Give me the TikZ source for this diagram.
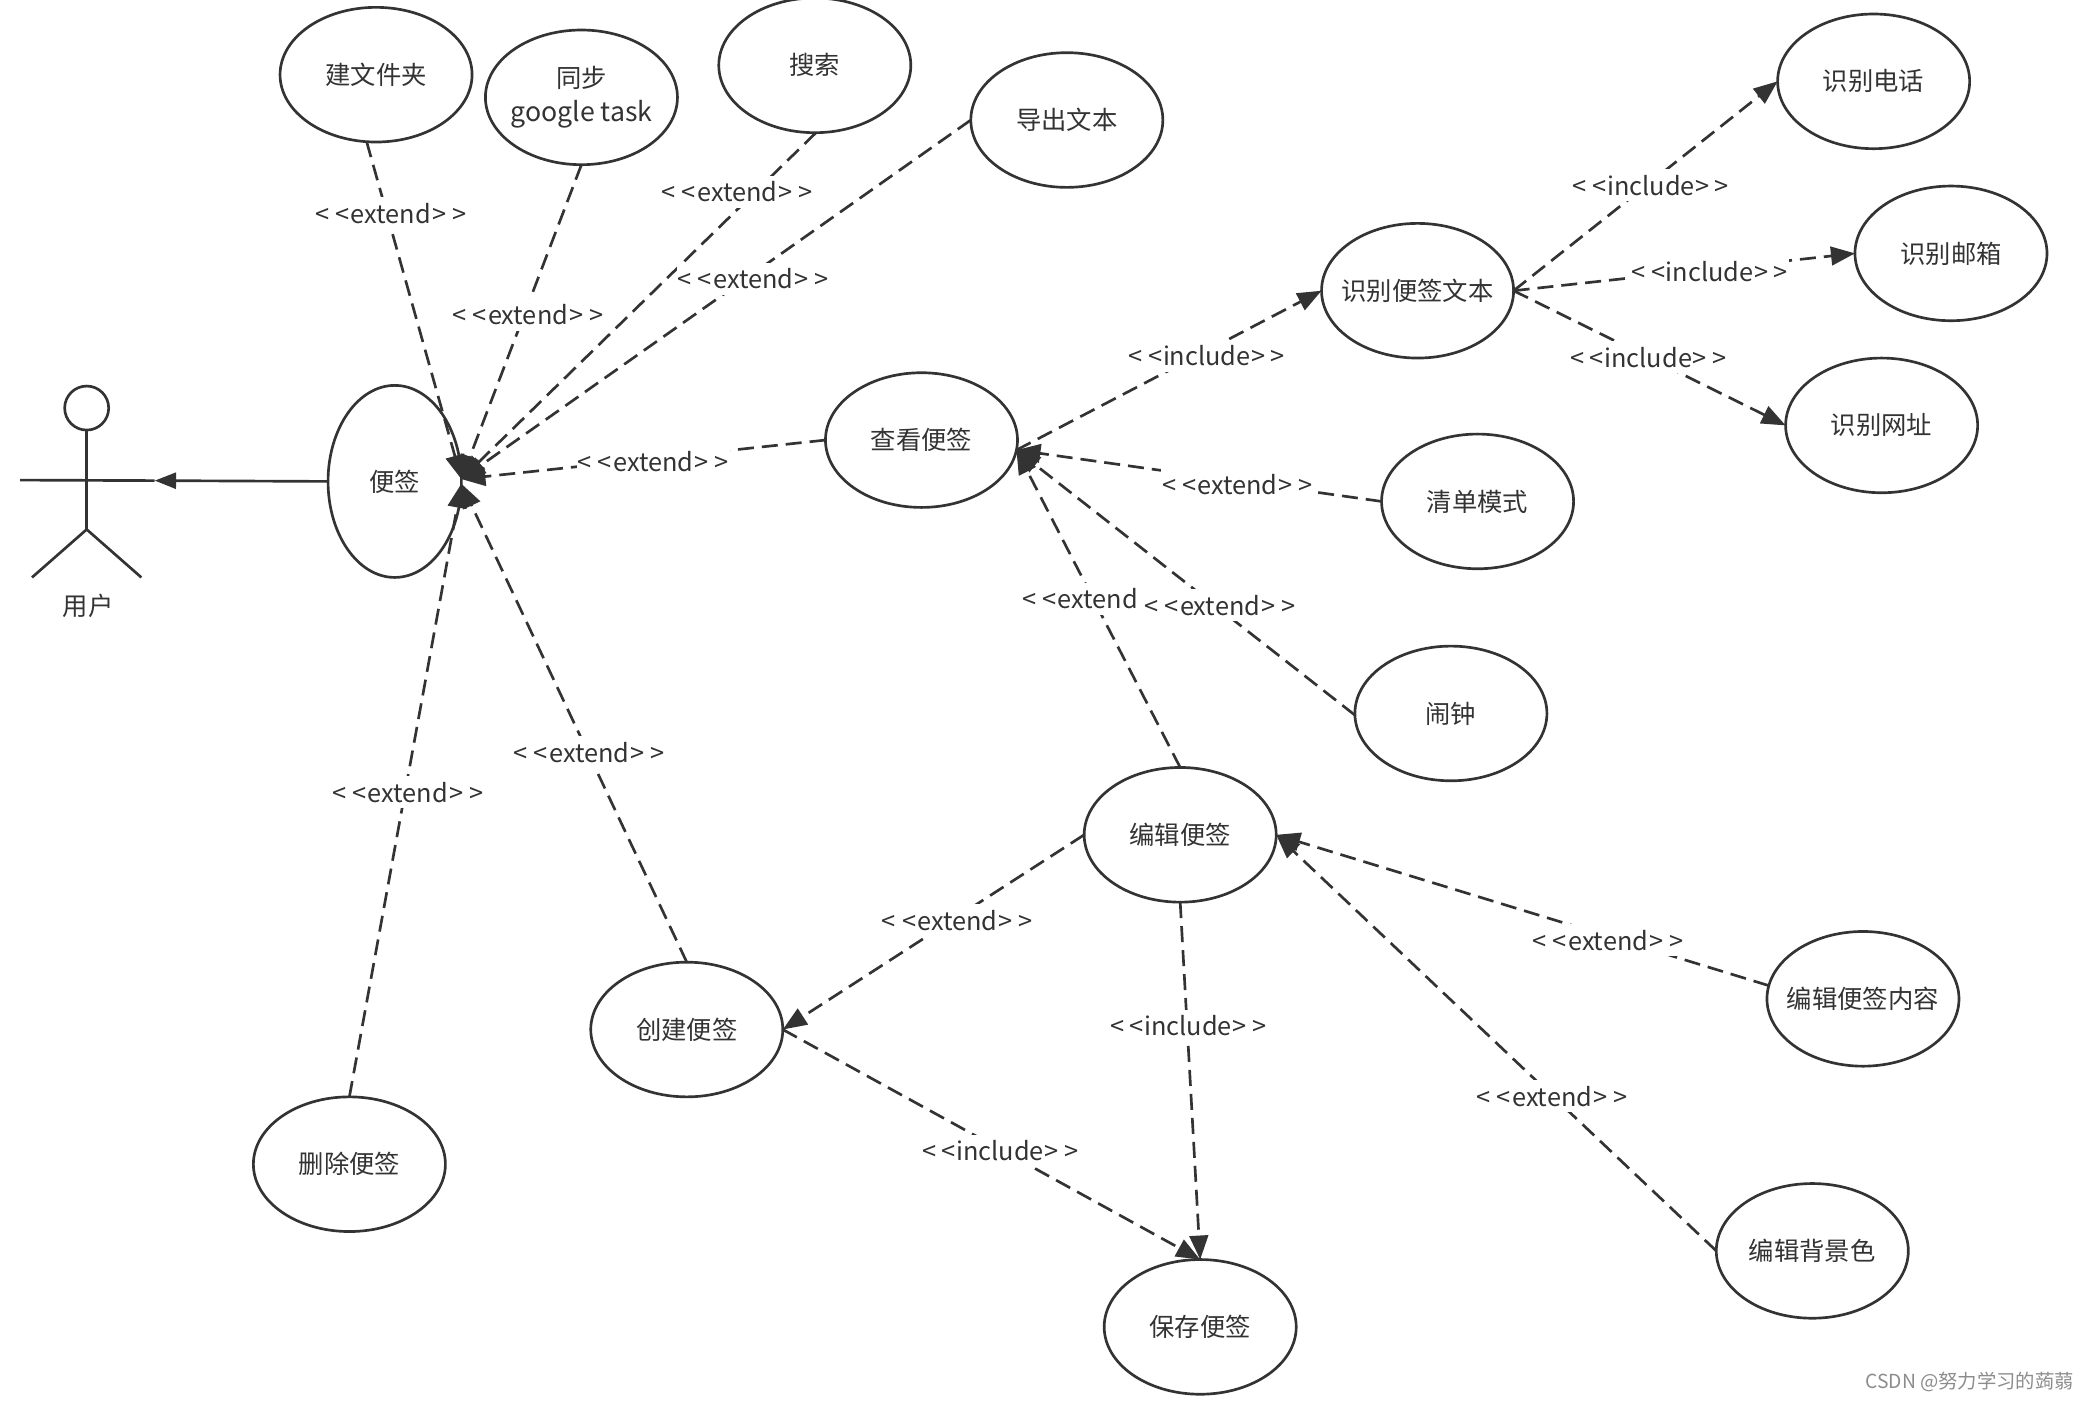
\documentclass[tikz,border=0pt]{standalone}
\usepackage{fontspec}
\setmainfont{Noto Sans CJK SC}
\usetikzlibrary{shapes.geometric,arrows.meta}
\definecolor{ink}{HTML}{333333}
\newcommand{\extlab}{<\kern4.5pt<\kern1pt extend\kern1pt>\kern4.5pt>}
\newcommand{\inclab}{<\kern4pt<\kern.5pt include\kern.5pt>\kern4pt>}
\newcommand{\onel}[1]{\makebox[0pt][c]{#1}}
\tikzset{
  usecase/.style={ellipse,draw=ink,line width=2pt,fill=white,minimum width=144pt,minimum height=101pt,inner sep=0pt,outer sep=0pt,text=ink,font=\fontsize{19}{24}\selectfont,align=center},
  dep/.style={draw=ink,line width=2pt,dash pattern=on 12pt off 6pt,-{Triangle[length=18pt,width=14pt,fill=ink]}},
  lab/.style={fill=white,inner xsep=1pt,inner ysep=0pt,minimum height=24pt,text=ink,font=\fontsize{19}{22}\selectfont},
  limb/.style={draw=ink,line width=2pt},
}
\begin{document}
\begin{tikzpicture}[x=1pt,y=-1pt]
\useasboundingbox (0,0) rectangle (1568,1050);
% use cases
\node[usecase] (jian) at (282,56) {\onel{建文件夹}};
\node[usecase] (tong) at (436,73) {\raisebox{-2pt}{\onel{同步}}\\[1pt]\raisebox{-2pt}{\onel{\fontsize{20}{24}\selectfont google task}}};
\node[usecase] (sou) at (611,49) {\onel{搜索}};
\node[usecase] (dao) at (800,90) {\onel{导出文本}};
\node[usecase,minimum width=100pt,minimum height=144pt] (bq) at (296,361) {\onel{便签}};
\node[usecase] (cha) at (691,330) {\onel{查看便签}};
\node[usecase] (sb) at (1063,218) {\onel{识别便签文本}};
\node[usecase] (dh) at (1405,61) {\onel{识别电话}};
\node[usecase] (yx) at (1463,190) {\onel{识别邮箱}};
\node[usecase] (wz) at (1411,319) {\onel{识别网址}};
\node[usecase] (qd) at (1108,376) {\onel{清单模式}};
\node[usecase] (nz) at (1088,535) {\onel{闹钟}};
\node[usecase] (bj) at (885,626) {\onel{编辑便签}};
\node[usecase] (cj) at (515,772) {\onel{创建便签}};
\node[usecase] (sc) at (262,873) {\onel{删除便签}};
\node[usecase] (bc) at (900,995) {\onel{保存便签}};
\node[usecase] (nr) at (1397,749) {\onel{编辑便签内容}};
\node[usecase] (bg) at (1359,938) {\onel{编辑背景色}};
% actor
\node[circle,draw=ink,line width=2pt,minimum size=33pt,inner sep=0pt] (head) at (65,306) {};
\coordinate (hip) at (65,397);
\coordinate (handL) at (15,360);
\coordinate (handR) at (116,360.4);
\coordinate (footL) at (24,433);
\coordinate (footR) at (106,433);
\draw[limb] (head.south) -- (hip);
\draw[limb] (handL) -- (handR);
\draw[limb] (footL) -- (hip) -- (footR);
\node[text=ink,font=\fontsize{19}{22}\selectfont,inner sep=0pt] (yh) at (66,454) {用户};
\draw[draw=ink,line width=2pt,-{Triangle[length=16pt,width=12pt,fill=ink]}] (bq.west) -- (handR);
% connectors
\coordinate (hub) at (bq.2);
\draw[dep] (jian.262) -- (hub);
\draw[dep] (tong.south) -- (hub);
\draw[dep] (sou.271) -- (hub);
\draw[dep] (dao.west) -- (hub);
\draw[dep] (cha.west) -- (hub);
\draw[dep] (cj.north) -- (bq.-2);
\draw[dep] (sc.north) -- (bq.-2);
\coordinate (chaIn) at (cha.-6);
\coordinate (sbOut) at (sb.east);
\draw[dep] (chaIn) -- (sb.west);
\draw[dep] (sbOut) -- (dh.west);
\draw[dep] (sbOut) -- (yx.west);
\draw[dep] (sbOut) -- (wz.west);
\draw[dep] (qd.west) -- (chaIn);
\draw[dep] (nz.181) -- (chaIn);
\draw[dep] (bj.north) -- (chaIn);
\draw[dep] (bj.west) -- (cj.east);
\draw[dep] (cj.east) -- (bc.north);
\draw[dep] (bj.south) -- (bc.north);
\draw[dep] (nr.172) -- (bj.east);
\draw[dep] (bg.west) -- (bj.east);
% labels
\node[lab] (l1) at (293,160) {\extlab};
\node[lab] (l2) at (396,236) {\extlab};
\node[lab] (l3) at (553,144) {\extlab};
\node[lab] (l4) at (565,209) {\extlab};
\node[lab] (l5) at (490,346) {\extlab};
\node[lab] (l6) at (928,363) {\extlab};
\node[lab] (l7) at (915,454) {\extlab};
\node[lab] (l8) at (810,449) {<\kern4.5pt<\kern1pt extend};
\node[lab] (l9) at (306,594) {\extlab};
\node[lab] (l10) at (442,564) {\extlab};
\node[lab] (l11) at (718,690) {\extlab};
\node[lab] (l12) at (1206,705) {\extlab};
\node[lab] (l13) at (1164,822) {\extlab};
\node[lab] (i1) at (905,267) {\inclab};
\node[lab] (i2) at (1238,139) {\inclab};
\node[lab] (i3) at (1282,204) {\inclab};
\node[lab] (i4) at (1236,268) {\inclab};
\node[lab] (i5) at (891,769) {\inclab};
\node[lab] (i6) at (750,863) {\inclab};
\node[text=black!45,font=\fontsize{14.5}{16}\selectfont,inner sep=0pt] (wm) at (1477,1036) {CSDN @努力学习的蒟蒻};
\end{tikzpicture}
\end{document}
